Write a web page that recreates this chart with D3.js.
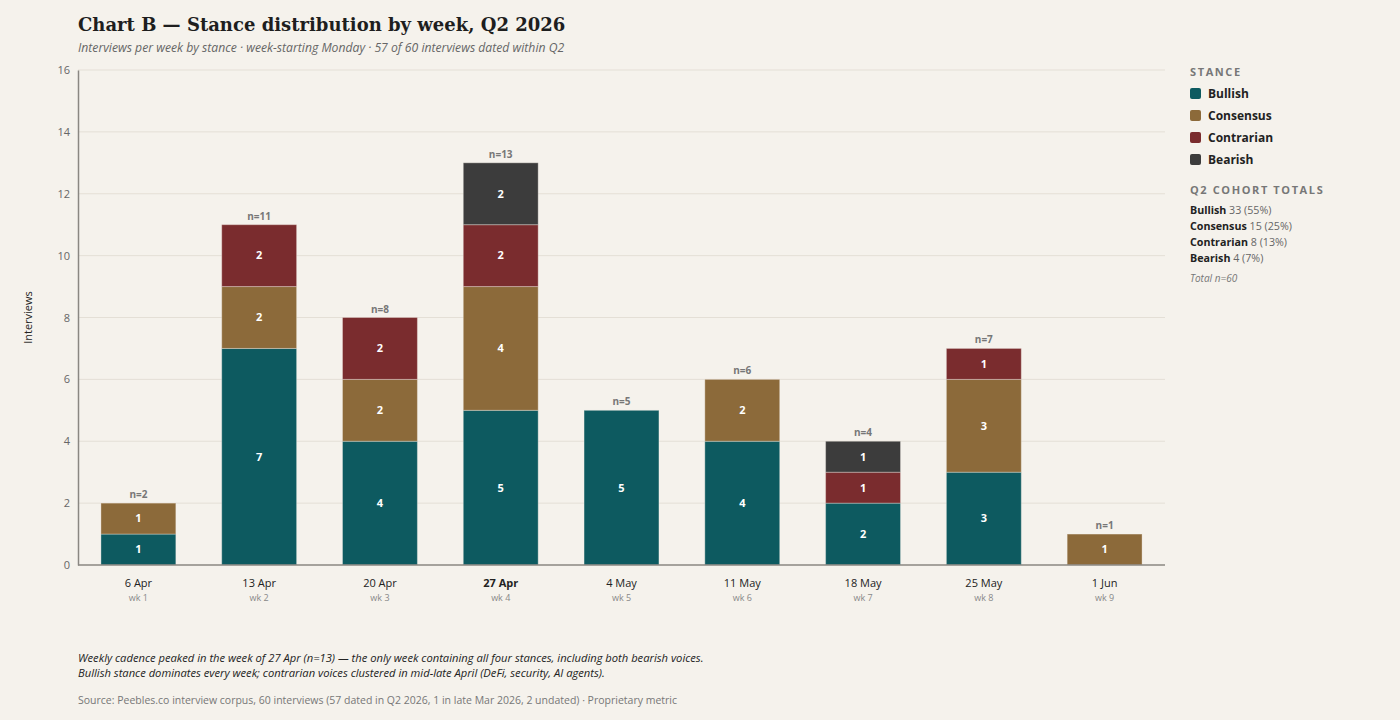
<!DOCTYPE html>
<html>
<head>
<meta charset="utf-8">
<script src="https://cdn.jsdelivr.net/npm/d3@7"></script>
<style>
  html, body { margin: 0; padding: 0; background: #f5f2ec; }
  svg { display: block; font-family: "Open Sans", "Noto Sans", sans-serif; }
</style>
</head>
<body>
<svg id="chart" width="1400" height="720"></svg>
<script>
// data
var weeks = ["6 Apr", "13 Apr", "20 Apr", "27 Apr", "4 May", "11 May", "18 May", "25 May", "1 Jun"];
var weekNums = ["wk 1", "wk 2", "wk 3", "wk 4", "wk 5", "wk 6", "wk 7", "wk 8", "wk 9"];
var stances = ["Bullish", "Consensus", "Contrarian", "Bearish"];
var bullish    = [1, 7, 4, 5, 5, 4, 2, 3, 0];
var consensus  = [1, 2, 2, 4, 0, 2, 0, 3, 1];
var contrarian = [0, 2, 2, 2, 0, 0, 1, 1, 0];
var bearish    = [0, 0, 0, 2, 0, 0, 1, 0, 0];
var cohortCounts = [33, 15, 8, 4];
var cohortPct = ["55%", "25%", "13%", "7%"];
var yTicks = [0, 2, 4, 6, 8, 10, 12, 14, 16];
var peakWeek = "27 Apr";

var colors = ["#0d5a60", "#8c6a3a", "#7a2c2e", "#3c3c3c"];

var rows = weeks.map(function(w, i) {
    return { week: w, wk: weekNums[i], Bullish: bullish[i], Consensus: consensus[i],
             Contrarian: contrarian[i], Bearish: bearish[i] };
});

var svg = d3.select("#chart");
var margin = { left: 78, right: 1165, top: 70, bottom: 565 };

var x = d3.scaleBand()
    .domain(weeks)
    .range([margin.left, margin.right])
    .paddingInner(0.38)
    .paddingOuter(0.19);

var y = d3.scaleLinear()
    .domain([0, 16])
    .range([margin.bottom, margin.top]);

var color = d3.scaleOrdinal().domain(stances).range(colors);

// title
svg.append("text")
    .attr("x", 78).attr("y", 31)
    .style("font-family", "Georgia, 'DejaVu Serif', serif")
    .style("font-size", "18px")
    .style("font-weight", "bold")
    .attr("fill", "#1e1e1e")
    .text("Chart B \u2014 Stance distribution by week, Q2 2026");

svg.append("text")
    .attr("x", 78).attr("y", 52)
    .style("font-size", "12.2px")
    .style("font-style", "italic")
    .attr("fill", "#666")
    .text("Interviews per week by stance \u00b7 week-starting Monday \u00b7 57 of 60 interviews dated within Q2");

// grid
svg.append("g")
    .selectAll("line")
    .data(yTicks.filter(function(d) { return d > 0; }))
    .enter().append("line")
    .attr("x1", margin.left).attr("x2", margin.right)
    .attr("y1", function(d) { return y(d); })
    .attr("y2", function(d) { return y(d); })
    .attr("stroke", "#e4dfd6")
    .attr("stroke-width", 1);

// y axis
var yAxis = svg.append("g")
    .attr("transform", "translate(" + margin.left + ",0)")
    .call(d3.axisLeft(y).tickValues(yTicks).tickSize(0).tickPadding(8));
yAxis.select(".domain").attr("stroke", "#8a8782").attr("stroke-width", 1.5);
yAxis.selectAll("text")
    .style("font-family", "'Open Sans', 'Noto Sans', sans-serif")
    .style("font-size", "11px")
    .attr("fill", "#666");

svg.append("text")
    .attr("transform", "translate(32," + ((margin.top + margin.bottom) / 2) + ") rotate(-90)")
    .attr("text-anchor", "middle")
    .style("font-size", "11px")
    .attr("fill", "#222")
    .text("Interviews");

// stacked bars
var stack = d3.stack().keys(stances);
var series = stack(rows);

var layer = svg.append("g")
    .selectAll("g")
    .data(series)
    .enter().append("g")
    .attr("fill", function(d) { return color(d.key); });

layer.selectAll("rect")
    .data(function(d) { return d.filter(function(s) { return s[1] > s[0]; }); })
    .enter().append("rect")
    .attr("x", function(d) { return x(d.data.week); })
    .attr("width", x.bandwidth())
    .attr("y", function(d) { return y(d[1]); })
    .attr("height", function(d) { return y(d[0]) - y(d[1]); })
    .attr("stroke", "#f5f2ec")
    .attr("stroke-opacity", 0.35)
    .attr("stroke-width", 1);

layer.selectAll("text")
    .data(function(d) { return d.filter(function(s) { return s[1] > s[0]; }); })
    .enter().append("text")
    .attr("x", function(d) { return x(d.data.week) + x.bandwidth() / 2; })
    .attr("y", function(d) { return (y(d[0]) + y(d[1])) / 2; })
    .attr("dy", "0.35em")
    .attr("text-anchor", "middle")
    .style("font-size", "11px")
    .style("font-weight", "bold")
    .attr("fill", "#fff")
    .text(function(d) { return d[1] - d[0]; });

// totals above bars
svg.append("g")
    .selectAll("text")
    .data(rows)
    .enter().append("text")
    .attr("x", function(d) { return x(d.week) + x.bandwidth() / 2; })
    .attr("y", function(d) { return y(d.Bullish + d.Consensus + d.Contrarian + d.Bearish) - 5; })
    .attr("text-anchor", "middle")
    .style("font-size", "10px")
    .style("font-weight", "bold")
    .attr("fill", "#777")
    .text(function(d) { return "n=" + (d.Bullish + d.Consensus + d.Contrarian + d.Bearish); });

// x axis
svg.append("line")
    .attr("x1", margin.left).attr("x2", margin.right)
    .attr("y1", margin.bottom).attr("y2", margin.bottom)
    .attr("stroke", "#8a8782")
    .attr("stroke-width", 1.5);

var xl = svg.append("g")
    .selectAll("g")
    .data(rows)
    .enter().append("g")
    .attr("transform", function(d) { return "translate(" + (x(d.week) + x.bandwidth() / 2) + ",0)"; });
xl.append("text")
    .attr("y", 587)
    .attr("text-anchor", "middle")
    .style("font-size", "11px")
    .style("font-weight", function(d) { return d.week == peakWeek ? "bold" : "normal"; })
    .attr("fill", "#222")
    .text(function(d) { return d.week; });
xl.append("text")
    .attr("y", 601)
    .attr("text-anchor", "middle")
    .style("font-size", "9px")
    .attr("fill", "#888")
    .text(function(d) { return d.wk; });

// legend
var lx = 1190;
svg.append("text")
    .attr("x", lx).attr("y", 76)
    .style("font-size", "11px")
    .style("font-weight", "bold")
    .style("letter-spacing", "1.6px")
    .attr("fill", "#777")
    .text("STANCE");

var leg = svg.append("g")
    .selectAll("g")
    .data(stances)
    .enter().append("g")
    .attr("transform", function(d, i) { return "translate(" + lx + "," + (94 + i * 22) + ")"; });
leg.append("rect")
    .attr("x", 0).attr("y", -6)
    .attr("width", 11).attr("height", 11)
    .attr("rx", 2)
    .attr("fill", function(d) { return color(d); });
leg.append("text")
    .attr("x", 18).attr("dy", "0.35em")
    .style("font-size", "12px")
    .style("font-weight", "bold")
    .attr("fill", "#222")
    .text(function(d) { return d; });

svg.append("text")
    .attr("x", lx).attr("y", 194)
    .style("font-size", "11px")
    .style("font-weight", "bold")
    .style("letter-spacing", "1.6px")
    .attr("fill", "#777")
    .text("Q2 COHORT TOTALS");

var tot = svg.append("g")
    .selectAll("text")
    .data(stances)
    .enter().append("text")
    .attr("x", lx)
    .attr("y", function(d, i) { return 214 + i * 16; })
    .style("font-size", "10.7px");
tot.append("tspan")
    .style("font-weight", "bold")
    .attr("fill", "#222")
    .text(function(d) { return d; });
tot.append("tspan")
    .attr("fill", "#666")
    .text(function(d, i) { return " " + cohortCounts[i] + " (" + cohortPct[i] + ")"; });

svg.append("text")
    .attr("x", lx).attr("y", 282)
    .style("font-size", "10px")
    .style("font-style", "italic")
    .attr("fill", "#777")
    .text("Total n=" + d3.sum(cohortCounts));

// footer
var notes = [
    "Weekly cadence peaked in the week of 27 Apr (n=13) \u2014 the only week containing all four stances, including both bearish voices.",
    "Bullish stance dominates every week; contrarian voices clustered in mid-late April (DeFi, security, AI agents)."
];
svg.append("g")
    .selectAll("text")
    .data(notes)
    .enter().append("text")
    .attr("x", 78)
    .attr("y", function(d, i) { return 662 + i * 15; })
    .style("font-size", "11.2px")
    .style("font-style", "italic")
    .attr("fill", "#222")
    .text(function(d) { return d; });

svg.append("text")
    .attr("x", 78).attr("y", 704)
    .style("font-size", "10.5px")
    .attr("fill", "#777")
    .text("Source: Peebles.co interview corpus, 60 interviews (57 dated in Q2 2026, 1 in late Mar 2026, 2 undated) \u00b7 Proprietary metric");
</script>
</body>
</html>
